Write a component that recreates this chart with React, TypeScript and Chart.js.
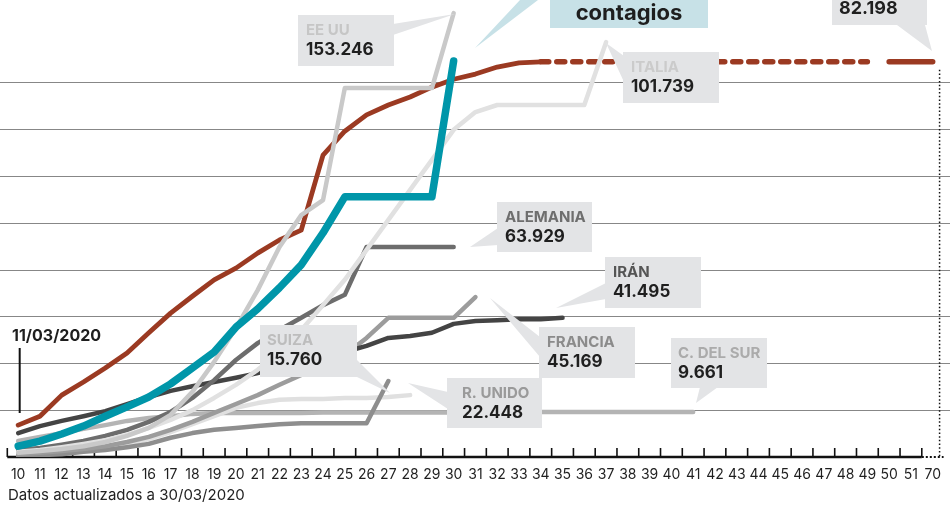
import React, { useEffect, useRef } from 'react';
import { Chart, registerables } from 'chart.js';

Chart.register(...registerables);

// X categories: days since the outbreak start (the last one jumps to 70)
const DAYS = ['10','11','12','13','14','15','16','17','18','19','20','21','22','23','24','25','26','27','28','29','30','31','32','33','34','35','36','37','38','39','40','41','42','43','44','45','46','47','48','49','50','51','70'];

// Values in thousands of cases (first value = day 10)
const SPAIN = [2.3, 3.4, 4.9, 6.6, 8.7, 10.7, 12.8, 15.6, 19.0, 22.4, 27.7, 31.6, 36.1, 41.0, 47.8, 55.5, 55.5, 55.5, 55.5, 55.5, 84.5];
const USA = [0.9, 1.3, 1.7, 2.3, 3.2, 4.5, 6.2, 9.0, 13.9, 20.3, 27.5, 35.6, 44.8, 51.6, 54.8, 78.7, 78.7, 78.7, 78.7, 78.7, 94.7];
const ITALY = [1.1, 1.5, 2.1, 2.8, 3.6, 4.7, 6.2, 7.9, 10.0, 12.6, 15.4, 18.6, 22.4, 27.1, 32.4, 37.8, 44.2, 50.6, 57.0, 63.4, 69.8, 73.6, 75.1, 75.1, 75.1, 75.1, 75.1, 88.5];
const CHINA = [6.8, 8.7, 13.2, 16.0, 19.0, 22.2, 26.5, 30.7, 34.3, 37.8, 40.3, 43.5, 46.3, 48.4, 64.4, 69.5, 73.0, 75.1, 76.8, 78.9, 80.6, 81.7, 83.2, 84.1, 84.3];
const CHINA_PROJ = [84.3, 84.3, 84.3, 84.3, 84.3, 84.3, 84.3, 84.3, 84.3, 84.3, 84.3, 84.3, 84.3, 84.3, 84.3, 84.3]; // days 34-49
const CHINA_LAST = [84.3, 84.3, 84.3]; // days 50, 51, 70
const GERMANY = [1.5, 1.9, 2.6, 3.4, 4.5, 5.8, 7.5, 9.6, 12.6, 16.4, 20.7, 24.3, 27.1, 29.7, 32.4, 34.6, 44.8, 44.8, 44.8, 44.8, 44.8];
const IRAN = [5.1, 6.6, 7.7, 8.7, 9.8, 11.3, 12.8, 14.1, 15.1, 16.0, 16.9, 17.9, 19.0, 20.3, 21.3, 22.4, 23.7, 25.4, 25.8, 26.5, 28.4, 29.0, 29.2, 29.4, 29.4, 29.7];
const FRANCE = [0.6, 0.9, 1.3, 1.7, 2.3, 3.2, 4.3, 5.8, 7.5, 9.4, 11.3, 13.2, 15.4, 17.5, 19.4, 21.8, 25.4, 29.7, 29.7, 29.7, 29.7, 34.1];
const SWITZERLAND = [0.4, 0.6, 0.9, 1.3, 1.9, 2.8, 3.8, 5.3, 7.0, 8.7, 10.5, 11.5, 12.2, 12.4, 12.4, 12.6, 12.6, 12.8, 13.2];
const UK = [0.2, 0.4, 0.6, 1.1, 1.5, 2.1, 2.8, 4.1, 5.1, 5.8, 6.2, 6.6, 7.0, 7.2, 7.2, 7.2, 7.2, 16.2];
const KOREA = [3.4, 4.3, 5.1, 6.0, 6.8, 7.7, 8.3, 8.7, 9.2, 9.4, 9.4, 9.4, 9.4, 9.4, 9.5, 9.5, 9.5, 9.5, 9.5, 9.5, 9.5, 9.5, 9.5, 9.6, 9.6, 9.6, 9.6, 9.6, 9.6, 9.6, 9.6, 9.6];

const GRID_VALUES = [10, 20, 30, 40, 50, 60, 70, 80];

const LABEL_NAMES = ['EE UU', 'ITALIA', 'ALEMANIA', 'IRÁN', 'FRANCIA', 'C. DEL SUR', 'R. UNIDO', 'SUIZA'];
const LABEL_VALUES = ['153.246', '101.739', '63.929', '41.495', '45.169', '9.661', '22.448', '15.760'];
const CHINA_TOTAL = '82.198';
const TITLE_TAIL = 'contagios';
const DATE_MARK = '11/03/2020';
const FOOTNOTE = 'Datos actualizados a 30/03/2020';

const FONT = 'Inter, "Noto Sans", sans-serif';
const BOX = '#e3e4e6';

// layout of the label boxes (pixels)
const BOXES = [
  { box: [298, 15, 96, 51], tx: 306, tri: [[393, 24], [393, 35], [455, 14]], color: '#c6c6c6' },
  { box: [623, 52, 96, 51], tx: 631, tri: [[606, 43], [624, 56], [624, 82]], color: '#cbcbcb' },
  { box: [497, 202, 95, 50], tx: 505, tri: [[470, 247], [498, 228], [498, 245]], color: '#6e6e6e' },
  { box: [605, 257, 96, 51], tx: 613, tri: [[556, 308], [606, 283], [606, 299]], color: '#555555' },
  { box: [539, 327, 96, 51], tx: 547, tri: [[490, 298], [540, 337], [540, 357]], color: '#8b8b8b' },
  { box: [671, 338, 96, 50], tx: 678, tri: [[696, 403], [700, 387], [718, 387]], color: '#ababab' },
  { box: [447, 378, 95, 50], tx: 462, tri: [[408, 383], [448, 392], [448, 409]], color: '#9a9a9a' },
  { box: [260, 325, 97, 52], tx: 267, tri: [[357, 360], [357, 377], [390, 393]], color: '#bdbdbd' },
];

function pad(values: (number | null)[], start: number): (number | null)[] {
  const out: (number | null)[] = DAYS.map(() => null);
  values.forEach((v, i) => { out[start + i] = v; });
  return out;
}

function triangle(ctx: CanvasRenderingContext2D, pts: number[][], color: string) {
  ctx.fillStyle = color;
  ctx.beginPath();
  ctx.moveTo(pts[0][0], pts[0][1]);
  for (let i = 1; i < pts.length; i++) ctx.lineTo(pts[i][0], pts[i][1]);
  ctx.closePath();
  ctx.fill();
}

const decor = {
  id: 'decor',
  beforeDatasetsDraw(chart: any) {
    const { ctx, chartArea, scales } = chart;
    const x = scales.x;
    const y = scales.y;
    ctx.save();
    // horizontal grid lines across the full width
    ctx.strokeStyle = '#878787';
    ctx.lineWidth = 1.2;
    for (const v of GRID_VALUES) {
      const py = Math.round(y.getPixelForValue(v)) + 0.5;
      ctx.beginPath();
      ctx.moveTo(0, py);
      ctx.lineTo(950, py);
      ctx.stroke();
    }
    const y0 = y.getPixelForValue(0);
    const w = x.getPixelForValue(1) - x.getPixelForValue(0);
    const bound = (i: number) => x.getPixelForValue(i) - w / 2;
    const last = DAYS.length - 1;
    // tick marks at category boundaries
    ctx.strokeStyle = '#111';
    ctx.lineWidth = 1.6;
    for (let i = 0; i <= last; i++) {
      const bx = bound(i);
      ctx.beginPath();
      ctx.moveTo(bx, y0 - 9);
      ctx.lineTo(bx, y0);
      ctx.stroke();
    }
    // axis line: solid, then dotted for the jump to day 70
    ctx.lineWidth = 2.6;
    ctx.beginPath();
    ctx.moveTo(bound(0), y0);
    ctx.lineTo(bound(last), y0);
    ctx.stroke();
    ctx.lineWidth = 2;
    ctx.setLineDash([2, 2]);
    ctx.beginPath();
    ctx.moveTo(bound(last), y0);
    ctx.lineTo(chartArea.right, y0);
    ctx.stroke();
    // dotted vertical line at day 70
    ctx.lineWidth = 1.5;
    ctx.setLineDash([1.5, 2.2]);
    const vx = chartArea.right - 4;
    ctx.beginPath();
    ctx.moveTo(vx, y.getPixelForValue(CHINA_LAST[CHINA_LAST.length - 1]) + 8);
    ctx.lineTo(vx, y0);
    ctx.stroke();
    ctx.setLineDash([]);
    // date marker
    const mx = x.getPixelForValue(0) + 1.5;
    ctx.lineWidth = 2;
    ctx.beginPath();
    ctx.moveTo(mx, 348);
    ctx.lineTo(mx, 413);
    ctx.stroke();
    ctx.fillStyle = '#1e1e1e';
    ctx.font = `bold 16px ${FONT}`;
    ctx.textBaseline = 'alphabetic';
    ctx.textAlign = 'left';
    ctx.fillText(DATE_MARK, 12, 341);
    ctx.restore();
  },
  afterDatasetsDraw(chart: any) {
    const { ctx } = chart;
    ctx.save();
    ctx.textBaseline = 'alphabetic';
    ctx.textAlign = 'left';
    // country label boxes
    BOXES.forEach((b, i) => {
      triangle(ctx, b.tri, BOX);
      ctx.fillStyle = BOX;
      ctx.fillRect(b.box[0], b.box[1], b.box[2], b.box[3]);
      ctx.fillStyle = b.color;
      ctx.font = `bold 15px ${FONT}`;
      ctx.fillText(LABEL_NAMES[i], b.tx, b.box[1] + 20);
      ctx.fillStyle = '#1f1f1f';
      ctx.font = `bold 17px ${FONT}`;
      ctx.fillText(LABEL_VALUES[i], b.tx, b.box[1] + 40);
    });
    // China total box
    triangle(ctx, [[897, 25], [925, 25], [932, 51]], BOX);
    ctx.fillStyle = BOX;
    ctx.fillRect(832, 0, 95, 25);
    ctx.fillStyle = '#1f1f1f';
    ctx.font = `bold 18px ${FONT}`;
    ctx.fillText(CHINA_TOTAL, 839, 14);
    // title tail box and pointer
    triangle(ctx, [[520, 0], [538, 0], [475, 48]], '#c7e1e7');
    ctx.fillStyle = '#c7e1e7';
    ctx.fillRect(550, 0, 158, 28);
    ctx.fillStyle = '#1e1e1e';
    ctx.font = `bold 22px ${FONT}`;
    ctx.textAlign = 'center';
    ctx.fillText(TITLE_TAIL, 629, 20);
    // footnote
    ctx.textAlign = 'left';
    ctx.font = `15px ${FONT}`;
    ctx.fillStyle = '#222';
    ctx.fillText(FOOTNOTE, 8, 500);
    ctx.restore();
  },
};

function line(label: string, values: (number | null)[], start: number, color: string, width: number, dash?: number[]) {
  return {
    label,
    data: pad(values, start),
    borderColor: color,
    borderWidth: width,
    borderDash: dash || [],
    borderCapStyle: 'round',
    borderJoinStyle: 'round',
    pointRadius: 0,
    tension: 0,
    fill: false,
    spanGaps: false,
  };
}

export default function App() {
  const ref = useRef<HTMLCanvasElement>(null);
  useEffect(() => {
    document.body.style.margin = '0';
    const chart = new Chart(ref.current as HTMLCanvasElement, {
      type: 'line',
      data: {
        labels: DAYS,
        // first dataset is drawn on top
        datasets: [
          line('España', SPAIN, 0, '#0096a9', 7.5),
          line('EE UU', USA, 0, '#c9c9c9', 4.5),
          line('Italia', ITALY, 0, '#e1e1e1', 4.5),
          line('China', CHINA, 0, '#9b3a22', 4.8),
          line('China (cont.)', CHINA_PROJ, 24, '#9b3a22', 5.5, [8, 8]),
          line('China (día 70)', CHINA_LAST, 40, '#9b3a22', 5.5),
          line('Alemania', GERMANY, 0, '#6d6d6d', 4.5),
          line('Irán', IRAN, 0, '#444444', 4.5),
          line('Francia', FRANCE, 0, '#9c9c9c', 4.5),
          line('R. Unido', UK, 0, '#8e8e8e', 4.5),
          line('Suiza', SWITZERLAND, 0, '#e0e0e0', 4.5),
          line('C. del Sur', KOREA, 0, '#b4b4b4', 4.5),
        ] as any,
      },
      options: {
        animation: false,
        responsive: true,
        maintainAspectRatio: false,
        events: [],
        layout: { padding: { left: 7.3, right: 3.5, top: 0, bottom: 25 } },
        plugins: { legend: { display: false }, tooltip: { enabled: false } },
        scales: {
          x: {
            type: 'category',
            offset: true,
            grid: { display: false, drawTicks: false },
            border: { display: false },
            afterFit: (scale: any) => { scale.height = 30; },
            ticks: {
              autoSkip: false,
              maxRotation: 0,
              padding: 9,
              color: '#1f1f1f',
              font: { family: FONT, size: 14 },
            },
          },
          y: {
            display: false,
            min: 0,
            max: 97.5,
          },
        },
      },
      plugins: [decor],
    });
    return () => chart.destroy();
  }, []);
  return (
    <div style={{ position: 'fixed', left: 0, top: 0, width: 950, height: 512, background: '#fff' }}>
      <canvas ref={ref} />
    </div>
  );
}
